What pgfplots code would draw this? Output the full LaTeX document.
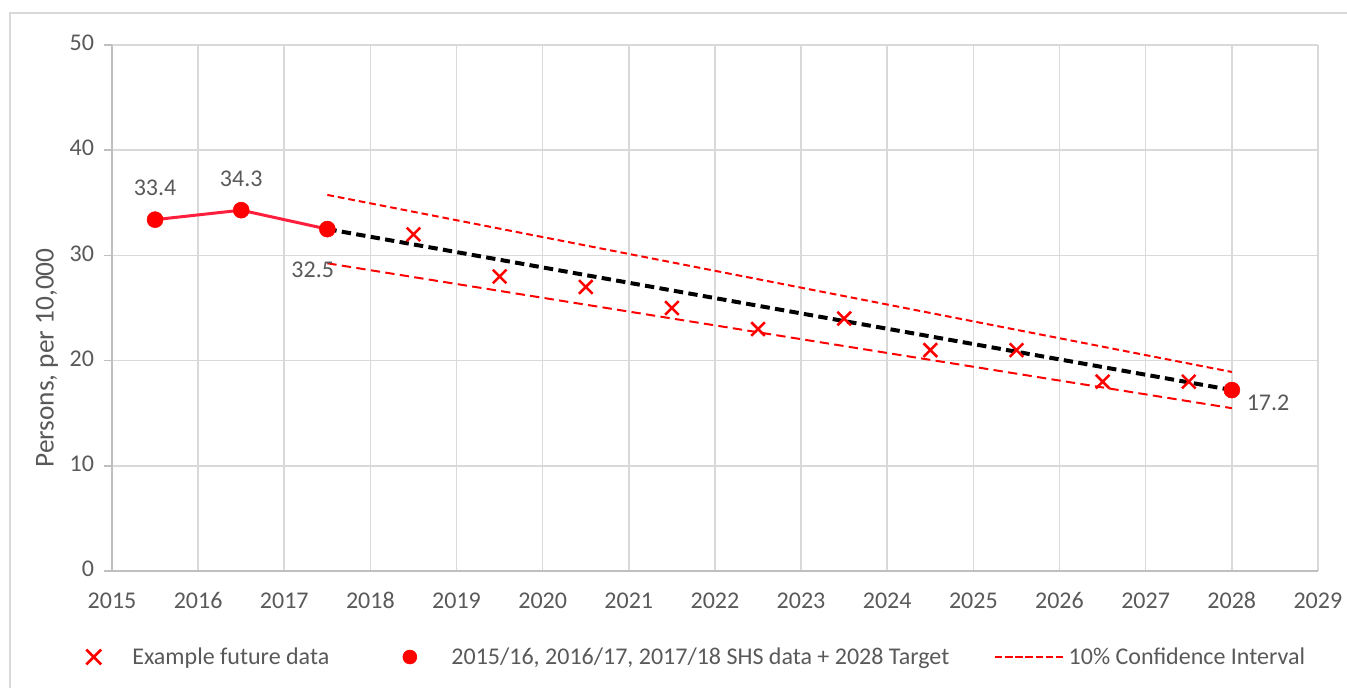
\documentclass[border=0pt]{standalone}
\usepackage{pgfplots}
\pgfplotsset{compat=1.18}
\usepackage{fontspec}
\setmainfont{Carlito}
\definecolor{txt}{HTML}{595959}
\definecolor{grd}{HTML}{D9D9D9}
\definecolor{axc}{HTML}{BFBFBF}
\definecolor{ln}{HTML}{FF1F3D}
\newcommand{\fs}{\fontsize{18}{21}\selectfont}
\pgfplotsset{
  legmark/.style={legend image code/.code={\draw[##1, mark size=7.9pt, line width=1.9pt] plot coordinates {(0pt,0pt)}; \path (-5.6pt,0pt) (26pt,0pt);}},
  legcirc/.style={legend image code/.code={\draw[##1, mark size=5.25pt] plot coordinates {(0pt,0pt)}; \path (-5.25pt,0pt) (29pt,0pt);}},
  legline/.style={legend image code/.code={\draw[##1, line width=1.6pt, dash pattern=on 5.6pt off 2pt] (0pt,0pt) -- (52.5pt,0pt);}},
}
\begin{document}
\begin{tikzpicture}[x=1pt,y=1pt]
\useasboundingbox (-84,-87) rectangle (926.25,428.25);
\draw[grd, line width=1.5pt] (-76.5,-200) rectangle (1000,418.5);
\begin{axis}[
  at={(0,0)}, anchor=south west,
  scale only axis, width=904.5pt, height=394.5pt,
  xmin=2015, xmax=2029, ymin=0, ymax=50,
  xtick={2015,...,2029}, ytick={0,10,...,50},
  grid=major, grid style={grd, line width=1.2pt},
  axis lines=left, axis line style={-, axc, line width=1.5pt},
  tick align=outside, major tick length=6pt,
  xtick style={draw=none}, ytick style={axc, line width=1.2pt},
  tick label style={font=\fs, text=txt},
  typeset ticklabels with strut,
  /pgf/number format/assume math mode=true,
  /pgf/number format/1000 sep={},
  xticklabel style={yshift=-4pt},
  yticklabel style={xshift=-4pt},
  ylabel={Persons, per 10,000},
  ylabel style={font=\fontsize{20.5}{24}\selectfont, text=txt, at={(axis description cs:-0.0539,0.405)}, anchor=center, rotate=0},
  legend columns=3,
  legend style={draw=none, fill=none, font=\fs, text=txt, inner sep=0pt, outer sep=0pt,
    at={(-0.0224,-0.1635)}, anchor=west,
    /tikz/column 2/.style={column sep=53pt},
    /tikz/column 4/.style={column sep=31.5pt}},
  clip=false,
]
\addplot[red, only marks, mark=x, mark size=7.2pt, line width=1.9pt, legmark]
  coordinates {(2018.5,32)(2019.5,28)(2020.5,27)(2021.5,25)(2022.5,23)(2023.5,24)(2024.5,21)(2025.5,21)(2026.5,18)(2027.5,18)};
\addlegendentry{Example future data}
\addplot[ln, line width=2.25pt, forget plot] coordinates {(2015.5,33.4)(2016.5,34.3)(2017.5,32.5)};
\addplot[red, only marks, mark=*, mark size=6pt, mark options={fill=red, draw=red}, legcirc]
  coordinates {(2015.5,33.4)(2016.5,34.3)(2017.5,32.5)(2028,17.2)};
\addlegendentry{2015/16, 2016/17, 2017/18 SHS data + 2028 Target}
\addplot[red, line width=1.5pt, dash pattern=on 5pt off 3pt, legline]
  coordinates {(2017.5,35.75)(2028,18.92)};
\addlegendentry{10\% Confidence Interval}
\addplot[red, line width=1.5pt, dash pattern=on 7pt off 4pt, forget plot]
  coordinates {(2017.5,29.25)(2028,15.48)};
\addplot[black, line width=3pt, dash pattern=on 7pt off 4pt, forget plot]
  coordinates {(2017.5,32.5)(2028,17.2)};
\node[font=\fs, text=txt, anchor=south] at (axis cs:2015.5,35.2) {33.4};
\node[font=\fs, text=txt, anchor=south] at (axis cs:2016.5,36.1) {34.3};
\node[font=\fs, text=txt] at (axis cs:2017.33,28.6) {32.5};
\node[font=\fs, text=txt] at (axis cs:2028.42,15.95) {17.2};
\end{axis}
\end{tikzpicture}
\end{document}
